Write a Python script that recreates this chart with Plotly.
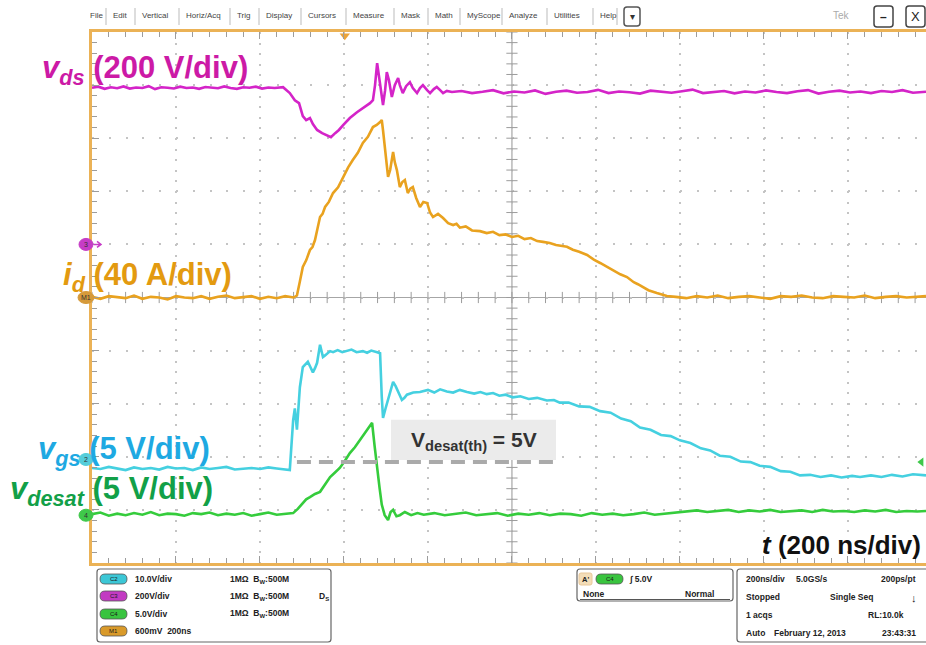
import plotly.graph_objects as go

# ---------------- captured waveforms (time in ns) ----------------
T_VDS = [0, 15, 30, 45, 60, 75, 90, 105, 120, 135, 150, 165, 180, 195, 210, 225, 240, 255, 270, 285,
         300, 315, 330, 345, 360, 375, 390, 405, 420, 435, 455,
         471, 483, 493, 502, 510, 519, 526, 536, 548, 560, 569, 579, 588, 598, 614, 631, 645, 662, 669,
         674, 679, 686, 693, 698, 702, 707, 714, 721, 729, 733, 740, 748, 757, 764, 774, 781, 788, 798,
         805, 814, 821, 829, 836, 845, 857,
         880, 905, 930, 955, 980, 1005, 1030, 1055, 1080, 1105, 1130, 1155, 1180, 1205, 1230, 1255, 1280,
         1305, 1330, 1355, 1380, 1405, 1430, 1455, 1480, 1505, 1530, 1555, 1580, 1605, 1630, 1655, 1680,
         1705, 1730, 1755, 1780, 1805, 1830, 1855, 1880, 1905, 1930, 1955, 1986]
VDS = [590, 594, 586, 592, 588, 595, 587, 591, 589, 596, 585, 592, 590, 587, 594, 589, 591, 586, 593, 590,
       588, 595, 589, 586, 592, 590, 594, 587, 591, 589, 592,
       570, 543, 532, 483, 468, 476, 453, 431, 419, 412, 404, 419, 431, 449, 476, 498, 513, 532, 543,
       600, 683, 600, 525, 581, 649, 619, 555, 600, 627, 600, 570, 596, 611, 589, 570, 589, 600, 581,
       570, 585, 593, 581, 570, 578, 574,
       578, 570, 575, 581, 569, 576, 572, 580, 567, 575, 579, 571, 574, 582, 570, 576, 573,
       568, 579, 575, 571, 577, 583, 570, 574, 578, 569, 576, 572, 580, 574, 570, 577,
       581, 568, 575, 579, 572, 576, 570, 578, 574, 581, 571, 575]

T_ID = [0, 20, 40, 60, 80, 100, 120, 140, 160, 180, 200, 220, 240, 260, 280, 300, 320, 340, 360, 380,
        400, 420, 440, 460, 480,
        488, 495, 502, 510, 519, 525, 531, 537, 543, 549, 555, 564, 574, 586, 598, 610, 621, 633, 645, 657,
        669, 678, 686, 690, 693, 699, 705, 710, 717, 721, 726, 733, 739, 745, 752, 758, 764, 772, 781, 789,
        798, 805, 812, 824, 836, 848, 860, 868, 876, 890, 905, 924, 940, 955, 970, 985, 1000, 1015, 1030, 1045,
        1060, 1074, 1090, 1105, 1118, 1131, 1145, 1160, 1179, 1195, 1210, 1226, 1242, 1258, 1274, 1290, 1300,
        1312, 1325, 1345, 1357, 1369,
        1390, 1415, 1440, 1465, 1490, 1515, 1540, 1565, 1590, 1615, 1640, 1665, 1690, 1715, 1740, 1765,
        1790, 1815, 1840, 1865, 1890, 1915, 1940, 1965, 1986]
ID = [0.5, -1, 1, 0, -0.5, 1.5, -1, 0.5, 0, -1.5, 1, 0, -0.5, 1, -1, 0.5, 1.5, -0.5, 0, 1,
      -1, 0.5, -0.5, 1, 0,
      1.5, 12, 23, 28, 35.8, 38, 43.3, 52, 60.6, 63, 68.2, 72, 78.7, 83, 90.8, 98, 103.6, 109, 116.4, 121,
      128.4, 130, 132.2, 133.7, 126, 108, 90.8, 96, 109.6, 102, 96, 83.2, 87, 88.5, 78.7, 82, 83.2, 75, 68.2, 72,
      71.2, 64, 60.6, 63, 59.9, 56, 54.6, 55.5, 52.6, 53.5, 50.5, 50, 48.5, 49.5, 47, 47.5, 45.6, 46.5, 44, 44.8,
      42.5, 41.9, 41, 39.5, 39, 38.2, 36, 34.5, 32, 28.5, 26, 23, 20.5, 17.5, 15.4, 11.5, 10,
      7.9, 5.5, 3.4, 2, 1.1,
      0.5, -0.5, 1, 0, 1.5, -0.5, 0.5, 1, 0, -1, 1, 0.5, 1.5, 0, -0.5, 1,
      0.5, 0, 1.5, -0.5, 0.5, 1, 0, 0.5, 1]

T_VGS = [0, 20, 40, 60, 80, 100, 120, 140, 160, 180, 200, 220, 240, 260, 280, 300, 320, 340, 360, 380,
         400, 420, 440, 460,
         471, 479, 483, 488, 495, 502, 508, 514, 520, 526, 531, 536, 543, 550, 555, 560, 567, 574, 585, 596,
         607, 618, 630, 645, 655, 665, 679, 686, 690, 693, 699, 705, 711, 717, 723, 729, 738, 744, 750, 765,
         781, 800, 815, 829, 845, 860, 876, 893, 910, 925, 940, 955, 970, 985, 1002, 1020, 1040, 1060, 1083,
         1100, 1114, 1135, 1160, 1185, 1210, 1235, 1260, 1283, 1305, 1330, 1355, 1378, 1400, 1425, 1450,
         1472, 1495, 1520, 1545, 1568, 1590, 1615, 1640, 1663, 1686, 1710, 1735, 1760, 1785, 1810, 1829,
         1855, 1880, 1905, 1930, 1955, 1986]
VGS = [-0.8, -0.9, -0.7, -0.85, -1.0, -0.75, -0.9, -0.8, -0.95, -0.7, -0.85, -0.8, -1.0, -0.75, -0.9, -0.8,
       -0.7, -0.95, -0.85, -0.8, -0.9, -0.75, -0.85, -0.95,
       -1.0, 3.7, 4.8, 2.8, 6.8, 8.7, 9.0, 9.2, 8.7, 8.2, 8.6, 9.1, 10.8, 9.65, 9.8, 10.0, 10.2, 10.1, 10.3, 10.1,
       10.2, 10.35, 10.1, 10.2, 10.05, 10.25, 10.1, 10.0, 5.9, 3.9, 4.8, 5.6, 6.6, 7.3, 6.9, 6.35, 5.6, 5.8, 6.1, 6.3,
       6.35, 6.55, 6.3, 6.6, 6.4, 6.3, 6.55, 6.35, 6.2, 6.35, 6.15, 6.25, 6.0, 6.1, 5.85, 5.95, 5.7, 5.8, 5.55,
       5.6, 5.35, 5.35, 5.0, 4.95, 4.55, 4.4, 3.85, 3.6, 3.0, 2.8, 2.3, 2.2, 1.8, 1.55, 1.05,
       0.85, 0.35, 0.25, -0.2, -0.25, -0.6, -0.7, -1.1, -1.15, -1.5, -1.45, -1.65, -1.5, -1.7, -1.55, -1.65,
       -1.5, -1.65, -1.45, -1.6, -1.4, -1.5]

T_VDESAT = [0, 20, 40, 60, 80, 100, 120, 140, 160, 180, 200, 220, 240, 260, 280, 300, 320, 340, 360, 380,
            400, 420, 440, 460,
            479, 490, 500, 510, 519, 531, 543, 555, 567, 578, 590, 602, 614, 626, 638, 650, 662, 667, 673,
            679, 685, 690, 697, 705, 711, 717, 725, 733, 745, 760, 775,
            790, 815, 840, 865, 890, 915, 940, 965, 990, 1015, 1040, 1065, 1090, 1115, 1140, 1165, 1190, 1215,
            1240, 1265, 1290, 1315, 1340, 1365, 1390, 1415, 1440, 1465, 1490, 1515, 1540, 1565, 1590, 1615,
            1640, 1665, 1690, 1715, 1740, 1765, 1790, 1815, 1840, 1865, 1890, 1915, 1940, 1965, 1986]
VDESAT = [0.1, 0.25, -0.05, 0.15, 0.0, 0.2, 0.05, 0.3, 0.0, 0.15, 0.1, -0.05, 0.2, 0.1, 0.25, 0.0,
          0.15, 0.05, 0.2, -0.05, 0.1, 0.25, 0.05, 0.15,
          0.2, 0.6, 1.1, 1.5, 1.7, 2.0, 2.2, 2.9, 3.6, 4.0, 4.45, 5.1, 5.85, 6.4, 7.1, 7.7, 8.5, 8.7, 6.5,
          4.3, 2.5, 1.0, 0.0, -0.45, 0.3, 0.5, -0.1, 0.0, 0.3, 0.0, 0.2,
          0.05, 0.2, 0.0, 0.15, 0.25, 0.0, 0.1, 0.2, -0.05, 0.15, 0.05, 0.2, 0.0, 0.15, 0.1, -0.05, 0.2, 0.05,
          0.15, 0.0, 0.1, 0.25, 0.05, 0.15, 0.2, 0.35, 0.45, 0.3, 0.4, 0.5, 0.3, 0.45, 0.35, 0.5,
          0.3, 0.4, 0.45, 0.3, 0.5, 0.35, 0.4, 0.3, 0.45, 0.35, 0.5, 0.3, 0.4, 0.35, 0.4]

VDESAT_TH = 5.0          # desaturation threshold, V
TH_SPAN = [488, 1105]    # extent of the threshold marker, ns
TH_BOX = [712, 1105]     # extent of the threshold caption box, ns

# ---------------- scope settings ----------------
N_DIV_Y = 10
T_VIEW = [0, 1986]                  # visible part of the 10 x 200 ns record
VDS_PER_DIV, VDS_GND = 200, 6.0     # V/div, ground position in divisions
ID_PER_DIV, ID_GND = 40, 5.0
VGS_PER_DIV, VGS_GND = 5, 1.95
VDESAT_PER_DIV, VDESAT_GND = 5, 0.9

C_VDS, C_ID, C_VGS, C_VDESAT = "#D424C8", "#E9A21F", "#45D0E0", "#35CC3C"
L_VDS, L_ID, L_VGS, L_VDESAT = "#CC1AA6", "#E39A10", "#1EA9E2", "#12A048"
FRAME = "#EBB256"
GRID = "#C4C4C4"
TICK = "#9C9C9C"

W, H = 926, 645
PX0, PX1, PY0, PY1 = 92, 926, 32, 563


def xp(px):
    return (px - PX0) / (PX1 - PX0)


def yp(py):
    return (PY1 - py) / (PY1 - PY0)


def ch_range(per_div, gnd):
    return [-gnd * per_div, (N_DIV_Y - gnd) * per_div]


fig = go.Figure()

# centre crosshair minor ticks
XT = [i * 40 for i in range(0, 50)]
YT = [i * 0.2 for i in range(0, 51)]
fig.add_trace(go.Scatter(x=XT, y=[5] * len(XT), mode="markers", hoverinfo="skip", showlegend=False,
                         marker=dict(symbol="line-ns", size=8, line=dict(width=1, color=TICK))))
fig.add_trace(go.Scatter(x=[1000] * len(YT), y=YT, mode="markers", hoverinfo="skip", showlegend=False,
                         marker=dict(symbol="line-ew", size=8, line=dict(width=1, color=TICK))))

# waveforms
for t, v, ax, c in [(T_VDS, VDS, "y2", C_VDS), (T_ID, ID, "y3", C_ID),
                    (T_VGS, VGS, "y4", C_VGS), (T_VDESAT, VDESAT, "y5", C_VDESAT)]:
    fig.add_trace(go.Scatter(x=t, y=v, yaxis=ax, mode="lines", hoverinfo="skip", showlegend=False,
                             line=dict(color=c, width=2.6)))

# trigger level (C4) and trigger position
fig.add_trace(go.Scatter(x=[1975], y=[VDESAT_TH], yaxis="y5", mode="markers", cliponaxis=False,
                         hoverinfo="skip", showlegend=False,
                         marker=dict(symbol="triangle-left", size=8, color="#3FC84A")))
fig.add_trace(go.Scatter(x=[602], y=[9.93], mode="markers", cliponaxis=False, hoverinfo="skip",
                         showlegend=False, marker=dict(symbol="triangle-down", size=9, color="#EBA43A")))

shapes = [
    dict(type="line", xref="x", yref="y", x0=1000, x1=1000, y0=0, y1=10,
         line=dict(color="#A6A6A6", width=1.2), layer="below"),
    dict(type="line", xref="x", yref="y", x0=T_VIEW[0], x1=T_VIEW[1], y0=5, y1=5,
         line=dict(color="#A6A6A6", width=1.2), layer="below"),
    dict(type="rect", xref="x", yref="y5", x0=TH_BOX[0], x1=TH_BOX[1], y0=VDESAT_TH + 0.2, y1=9.0,
         fillcolor="#EBEBEB", line=dict(width=0), layer="above"),
    dict(type="line", xref="x", yref="y5", x0=TH_SPAN[0], x1=TH_SPAN[1], y0=VDESAT_TH, y1=VDESAT_TH,
         line=dict(color="#AAAAAA", width=4, dash="14px,8px"), layer="above"),
]

annotations = []

# channel ground indicators on the left edge
for ax, col, txt_, wpx in [("y2", "#C63CC6", "3", 7), ("y3", "#D69A3A", "M1", 8),
                           ("y4", "#55CDDA", "2", 7), ("y5", "#3FC84A", "4", 7)]:
    shapes.append(dict(type="circle", xref="paper", yref=ax, xsizemode="pixel", ysizemode="pixel",
                       xanchor=xp(86), yanchor=0, x0=-wpx, x1=wpx, y0=-6, y1=6,
                       fillcolor=col, line=dict(color=col, width=1), layer="above"))
    annotations.append(dict(xref="paper", yref=ax, x=xp(86), y=0, xanchor="center", yanchor="middle",
                            showarrow=False, text=txt_,
                            font=dict(family="Liberation Sans", size=7, color="#333")))
shapes.append(dict(type="path", xref="paper", yref="y2", xsizemode="pixel", ysizemode="pixel",
                   xanchor=xp(86), yanchor=0, path="M 8,0 L 14,0 M 11,-3 L 15,0 L 11,3",
                   line=dict(color="#C63CC6", width=1.5)))


def label(px_right, py, html, color, size):
    annotations.append(dict(xref="paper", yref="paper", x=xp(px_right), y=yp(py), xanchor="right",
                            yanchor="middle", showarrow=False, text=html,
                            font=dict(family="Liberation Sans, Arial", size=size, color=color)))


label(250, 70, "<b><i>v</i><sub><i>ds</i></sub> (200 V/div)</b>", L_VDS, 31)
label(234, 277, "<b><i>i</i><sub><i>d</i></sub> (40 A/div)</b>", L_ID, 31)
label(212, 451, "<b><i>v</i><sub><i>gs</i></sub> (5 V/div)</b>", L_VGS, 31)
label(215, 491, "<b><i>v</i><sub><i>desat</i></sub> (5 V/div)</b>", L_VDESAT, 31)
label(923, 545, "<b><i>t</i> (200 ns/div)</b>", "#111111", 26)

annotations.append(dict(xref="x", yref="y5", x=(TH_BOX[0] + TH_BOX[1]) / 2, y=7.0, showarrow=False,
                        xanchor="center", yanchor="middle",
                        text="<b>V<sub>desat(th)</sub> = 5V</b>",
                        font=dict(family="Liberation Sans, Arial", size=21, color="#333333")))

# ---------------- menu bar ----------------
MENU = ["File", "Edit", "Vertical", "Horiz/Acq", "Trig", "Display", "Cursors", "Measure", "Mask", "Math",
        "MyScope", "Analyze", "Utilities", "Help"]
MENU_X = [88, 111, 140, 184, 235, 264, 306, 351, 399, 433, 465, 507, 552, 598]
for name, x0 in zip(MENU, MENU_X):
    annotations.append(dict(xref="paper", yref="paper", x=xp(x0), y=yp(16), xanchor="left", yanchor="middle",
                            showarrow=False, text=name,
                            font=dict(family="Liberation Sans", size=8, color="#444")))
for x0 in MENU_X[1:] + [622]:
    shapes.append(dict(type="line", xref="paper", yref="paper", x0=xp(x0 - 5), x1=xp(x0 - 5),
                       y0=yp(8), y1=yp(25), line=dict(color="#BBBBBB", width=1)))


def box(x0, x1, y0, y1, color="#555", width=1.2, fill="rgba(0,0,0,0)", r=3):
    a, b, c, d = xp(x0), xp(x1), yp(y0), yp(y1)
    rx, ry = r / (PX1 - PX0), r / (PY1 - PY0)
    path = (f"M{a + rx},{c} L{b - rx},{c} Q{b},{c} {b},{c - ry} L{b},{d + ry} Q{b},{d} {b - rx},{d} "
            f"L{a + rx},{d} Q{a},{d} {a},{d + ry} L{a},{c - ry} Q{a},{c} {a + rx},{c} Z")
    shapes.append(dict(type="path", xref="paper", yref="paper", path=path,
                       line=dict(color=color, width=width), fillcolor=fill))


def center_text(x, y, s, size, color="#222", family="Liberation Sans"):
    annotations.append(dict(xref="paper", yref="paper", x=xp(x), y=yp(y), xanchor="center",
                            yanchor="middle", showarrow=False, text=s,
                            font=dict(family=family, size=size, color=color)))


box(624, 640, 7, 26, color="#555", width=1.5)
center_text(632, 16.5, "▾", 10, "#333")
center_text(841, 16, "Tek", 10, "#AAAAAA")
box(874, 893, 6, 27, color="#444", width=1.5)
center_text(883.5, 17, "<b>–</b>", 12)
box(906, 925, 6, 27, color="#444", width=1.5)
center_text(915.5, 16.5, "X", 13)

# ---------------- status panels ----------------
PF = "Liberation Sans Narrow, Liberation Sans"


def txt(x, y, s, anchor="left", size=8.5, color="#222"):
    annotations.append(dict(xref="paper", yref="paper", x=xp(x), y=yp(y), xanchor=anchor, yanchor="middle",
                            showarrow=False, text=f"<b>{s}</b>",
                            font=dict(family=PF, size=size, color=color)))


def pill(x0, y, col, s):
    box(x0, x0 + 27, y - 5, y + 5, color="#555", width=0.8, fill=col, r=5)
    center_text(x0 + 13.5, y, s, 6, "#1a1a1a", PF)


box(97, 331, 569, 642, color="#666")
ROWS = [579, 596, 614, 631]
for y, col, ch, sc in zip(ROWS, ["#3CC7D6", "#C23BC2", "#39C43F", "#D99A2A"],
                          ["C2", "C3", "C4", "M1"], ["10.0V/div", "200V/div", "5.0V/div", "600mV  200ns"]):
    pill(100, y, col, ch)
    txt(133, y, sc)
for y in ROWS[:3]:
    txt(228, y, "1MΩ  B<sub>W</sub>:500M")
txt(317, ROWS[1], "D<sub>S</sub>")

box(577, 733, 569, 601, color="#666")
box(579, 592, 573, 585, color="#E9C89A", width=1, fill="#F3DDB8", r=2)
txt(580, 579, "A'", size=7.5)
pill(596, 579, "#39C43F", "C4")
txt(627, 579, "∫ 5.0V")
txt(581, 594, "None")
txt(716, 594, "Normal", anchor="right")
shapes.append(dict(type="line", xref="paper", yref="paper", x0=xp(580), x1=xp(730), y0=yp(599.5),
                   y1=yp(599.5), line=dict(color="#555", width=1)))

box(737, 945, 569, 642, color="#666")
txt(744, 579, "200ns/div")
txt(794, 579, "5.0GS/s")
txt(918, 579, "200ps/pt", anchor="right")
txt(744, 597, "Stopped")
txt(828, 597, "Single Seq")
txt(914, 598, "↓", anchor="center", size=11)
txt(744, 615, "1 acqs")
txt(906, 615, "RL:10.0k", anchor="right")
txt(744, 633, "Auto")
txt(772, 633, "February 12, 2013")
txt(918, 633, "23:43:31", anchor="right")

hidden = dict(overlaying="y", visible=False, showgrid=False, zeroline=False)
fig.update_layout(
    width=W, height=H,
    margin=dict(l=PX0, r=W - PX1, t=PY0, b=H - PY1, pad=0),
    paper_bgcolor="white", plot_bgcolor="white",
    showlegend=False,
    xaxis=dict(range=T_VIEW, showticklabels=False, zeroline=False,
               showgrid=True, dtick=200, tick0=0, gridcolor=GRID, gridwidth=1.5, griddash="2px,8.6px",
               showline=True, linecolor=FRAME, linewidth=3, mirror="ticks",
               ticks="inside", ticklen=7, tickcolor=TICK, tickwidth=1,
               minor=dict(dtick=40, tick0=0, ticks="inside", ticklen=5, tickcolor=TICK, showgrid=False)),
    yaxis=dict(range=[0, N_DIV_Y], showticklabels=False, zeroline=False,
               showgrid=True, dtick=1, tick0=0, gridcolor=GRID, gridwidth=1.5, griddash="2px,14.8px",
               showline=True, linecolor=FRAME, linewidth=3, mirror=False,
               ticks="inside", ticklen=7, tickcolor=TICK, tickwidth=1,
               minor=dict(dtick=0.2, tick0=0, ticks="inside", ticklen=5, tickcolor=TICK, showgrid=False)),
    yaxis2=dict(range=ch_range(VDS_PER_DIV, VDS_GND), **hidden),
    yaxis3=dict(range=ch_range(ID_PER_DIV, ID_GND), **hidden),
    yaxis4=dict(range=ch_range(VGS_PER_DIV, VGS_GND), **hidden),
    yaxis5=dict(range=ch_range(VDESAT_PER_DIV, VDESAT_GND), **hidden),
    shapes=shapes,
    annotations=annotations,
)

fig.write_html("out.html", config={"displayModeBar": False})
